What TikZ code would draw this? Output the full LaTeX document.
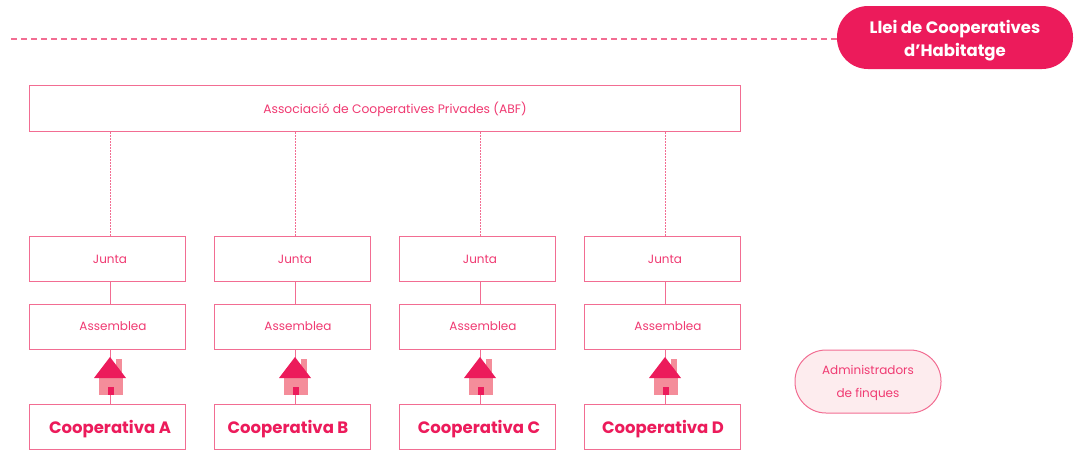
\documentclass[tikz,border=0pt]{standalone}
\usepackage{fontspec}
\setmainfont{Poppins}
\definecolor{crim}{HTML}{EC1B5B}
\definecolor{softcrim}{HTML}{F03A72}
\definecolor{linepink}{HTML}{F26D92}
\definecolor{housepink}{HTML}{F48D9A}
\definecolor{palepink}{HTML}{FDECEE}
\newcommand{\drop}[2]{\raisebox{0pt}[\dimexpr\height+#1pt\relax]{#2}}
\tikzset{
  box/.style={draw=linepink,line width=1pt,fill=white,inner sep=0pt,minimum width=156pt,minimum height=45pt,text=softcrim,font=\fontsize{12}{14}\selectfont},
  wide/.style={box,minimum width=711pt,minimum height=46pt,font=\fontsize{12.3}{14}\selectfont},
  boldbox/.style={box,text=crim,font=\fontsize{16.5}{18}\selectfont\bfseries},
  link/.style={draw=linepink,line width=1pt},
  dotlink/.style={draw=linepink,line width=0.8pt,dash pattern=on 1.5pt off 1.5pt},
  lawpill/.style={fill=crim,rounded corners=31pt,minimum width=236pt,minimum height=63pt,inner sep=0pt,align=center,text=white,font=\fontsize{16.5}{23}\selectfont\bfseries},
  adminpill/.style={draw=linepink,line width=1pt,fill=palepink,rounded corners=31pt,minimum width=146pt,minimum height=63pt,inner sep=0pt,align=center,text=softcrim,font=\fontsize{12}{23}\selectfont},
  rulepink/.style={draw=linepink,line width=1.3pt,dash pattern=on 5.5pt off 4.5pt}
}
\newcommand{\myhouse}[1]{%
  \begin{scope}[shift={(#1,0)}]
    \fill[housepink] (6,359) rectangle (12,372);
    \fill[housepink] (-11,378) rectangle (13,395);
    \fill[crim] (-16,378) -- (0,357) -- (16,378) -- cycle;
    \fill[crim] (-2,387) rectangle (3.5,395);
  \end{scope}}
\begin{document}
\begin{tikzpicture}[x=1pt,y=-1pt]
\useasboundingbox (0,0) rectangle (1077,451);
\coordinate (dashstart) at (10,39);
\node[lawpill] (law) at (955,37.5) {\drop{6}{Llei de Cooperatives}\\d’Habitatge};
\node[wide] (abf) at (385,108) {\kern20pt\drop{2}{Associació de Cooperatives Privades (ABF)}};
\node[adminpill] (admin) at (868,381.5) {\drop{3}{Administradors}\\de finques};
\foreach \n/\x/\l/\off in {a/107/A/6,b/292/B/-8,c/477/C/4,d/662/D/2}{
  \node[box] (j\n) at (\x,258.5) {\kern6pt\drop{2}{Junta}};
  \node[box] (s\n) at (\x,326.5) {\kern12pt\drop{0}{Assemblea}};
  \node[boldbox] (c\n) at (\x,426.5) {\kern\off pt\drop{5}{Cooperativa \l}};
  \draw[dotlink] ([xshift=3.5pt]j\n.north) -- ([xshift=3.5pt]j\n.north |- abf.south);
  \draw[link] ([xshift=3.5pt]j\n.south) -- ([xshift=3.5pt]s\n.north);
  \draw[link] ([xshift=3.5pt]s\n.south) -- ([xshift=3.5pt]c\n.north);
  \pgfmathsetmacro{\hx}{\x+3}
  \myhouse{\hx}
}
\draw[rulepink] (law.west |- dashstart) -- (dashstart);
\end{tikzpicture}
\end{document}
